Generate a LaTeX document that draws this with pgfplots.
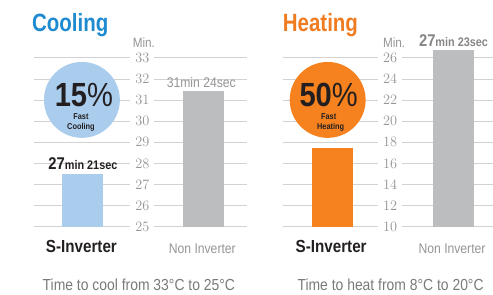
\documentclass[border=0pt]{standalone}
\usepackage{pgfplots}
\pgfplotsset{compat=1.18}
\usepackage{fontspec}
\setmainfont{Liberation Sans}[FakeStretch=0.87]
\newfontfamily\condfont{Liberation Sans}[FakeStretch=0.82]
\definecolor{coolblue}{HTML}{1E8BD1}
\definecolor{heatorange}{HTML}{F07C22}
\definecolor{lightblue}{HTML}{AACDEE}
\definecolor{barorange}{HTML}{F5821F}
\definecolor{bargray}{HTML}{BCBDBF}
\definecolor{gridgray}{HTML}{D2D2D2}
\definecolor{ticklab}{HTML}{959595}
\definecolor{captgray}{HTML}{7A7A7A}
\definecolor{darktext}{HTML}{231F20}
\newcommand{\fs}[1]{\fontsize{#1bp}{#1bp}\selectfont}
\begin{document}
\begin{tikzpicture}[x=1bp,y=1bp]
\path (0,0) rectangle (493,295);
\pgfplotsset{panel/.style={
  scale only axis, anchor=south west,
  axis line style={draw=none},
  xtick=\empty, major tick length=0pt,
  ytick style={draw=none},
  ymajorgrids, grid style={gridgray, line width=1bp},
  yticklabel style={anchor=center, fill=white, inner xsep=5bp, inner ysep=1bp,
     text=ticklab, font=\fs{13.5}},
  clip=true,
}}
% Cooling panel
\begin{axis}[panel, at={(34bp,68bp)}, width=213bp, height=187bp,
  xmin=34, xmax=247, ymin=25, ymax=33.852,
  ytick={25,26,...,33},
  yticklabel style={xshift=108.5bp}]
\addplot[ybar, bar width=41, bar shift=0pt, fill=lightblue, draw=none] coordinates {(82.5,27.51)};
\addplot[ybar, bar width=41, bar shift=0pt, fill=bargray, draw=none] coordinates {(203.5,31.45)};
\end{axis}
% Heating panel
\begin{axis}[panel, at={(283bp,68bp)}, width=210bp, height=187bp,
  xmin=283, xmax=493, ymin=10, ymax=27.704,
  ytick={10,12,...,26},
  yticklabel style={xshift=107.5bp}]
\addplot[ybar, bar width=41, bar shift=0pt, fill=barorange, draw=none] coordinates {(332.5,17.45)};
\addplot[ybar, bar width=41, bar shift=0pt, fill=bargray, draw=none] coordinates {(453.5,26.76)};
\end{axis}
% titles
\node[anchor=base west, inner sep=0, text=coolblue, font=\condfont\fs{25}\bfseries] at (32,263) {Cooling};
\node[anchor=base west, inner sep=0, text=heatorange, font=\condfont\fs{25}\bfseries] at (283,263) {Heating};
\node[anchor=base, inner sep=0, text=ticklab, font=\fs{13.5}] at (144,247) {Min.};
\node[anchor=base, inner sep=0, text=ticklab, font=\fs{13.5}] at (394.5,247) {Min.};
% circles
\fill[lightblue] (82,195) circle (38);
\fill[barorange] (328,195) circle (38);
\node[anchor=base, inner sep=0, text=darktext] at (84,188) {\fs{33.5}\bfseries 15\fs{33.5}\mdseries\%};
\node[anchor=base, inner sep=0, text=darktext] at (329,188) {\fs{33.5}\bfseries 50\fs{33.5}\mdseries\%};
\node[anchor=base, inner sep=0, text=darktext, font=\fs{8.5}\bfseries] at (81,175) {Fast};
\node[anchor=base, inner sep=0, text=darktext, font=\fs{8.5}\bfseries] at (81,165.5) {Cooling};
\node[anchor=base, inner sep=0, text=darktext, font=\fs{8.5}\bfseries] at (329,175) {Fast};
\node[anchor=base, inner sep=0, text=darktext, font=\fs{8.5}\bfseries] at (331,165) {Heating};
% value labels
\node[anchor=base, inner sep=0, text=darktext] at (83,125) {\fs{17}\bfseries 27\fs{12.5}min 21sec};
\node[anchor=base, inner sep=0, text=ticklab, font=\fs{14}] at (201.5,207) {31min 24sec};
\node[anchor=base, inner sep=0, text=ticklab!90!black] at (454,248) {\fs{17}\bfseries 27\fs{12.5}min 23sec};
% category labels
\node[anchor=base, inner sep=0, text=darktext, font=\fs{17.5}\bfseries] at (81.5,42.3) {S-Inverter};
\node[anchor=base, inner sep=0, text=darktext, font=\fs{17.5}\bfseries] at (331.5,42.3) {S-Inverter};
\node[anchor=base, inner sep=0, text=ticklab, font=\fs{14}] at (202.5,41.7) {Non Inverter};
\node[anchor=base, inner sep=0, text=ticklab, font=\fs{14}] at (452.5,41.7) {Non Inverter};
% captions
\node[anchor=base, inner sep=0, text=captgray, font=\fs{16}] at (139,4.3) {Time to cool from 33°C to 25°C};
\node[anchor=base, inner sep=0, text=captgray, font=\fs{16}] at (391,4.3) {Time to heat from 8°C to 20°C};
\end{tikzpicture}
\end{document}
